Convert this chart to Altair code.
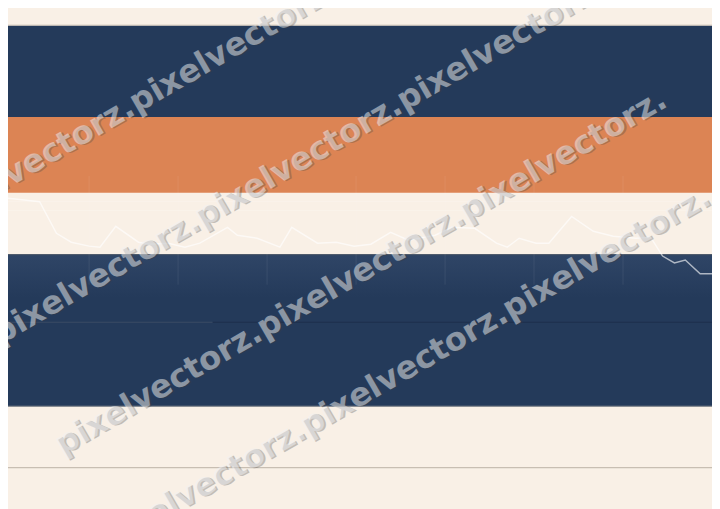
import altair as alt
import pandas as pd

# ---- data (units: horizontal / vertical level) ----
band_y0 = [22.5, 115.5, 254.5]
band_y1 = [115.5, 192.0, 408.0]
band_color = ["#243a5a", "#dc8454", "#243a5a"]

rule_y = [22.5, 254.5, 323.0, 323.0, 408.0, 470.0]
rule_x0 = [0, 0, 0, 215, 0, 0]
rule_x1 = [720, 720, 215, 720, 720, 720]
rule_color = ["#dcd1c5", "#4f5b6c", "#3a4b64", "#1c2f4c", "#8a8e94", "#c8beb2"]

grid_x = [90, 180, 270, 360, 450, 540, 630]
grid_top = 175
grid_bottom = 285
hgrid_y = [201, 210]

line_x = [0, 13, 40, 57, 72, 90, 101, 117, 140, 151, 170, 187, 202, 230, 240,
          260, 283, 295, 321, 340, 358, 375, 395, 413, 440, 457, 480, 502, 513,
          525, 542, 555, 578, 600, 620, 643, 658, 670, 682, 693, 708, 720]
line_y = [197, 198, 201, 233, 242, 246, 247, 226, 242, 244, 243, 247, 243, 227, 235,
          238, 247, 227, 243, 242, 246, 244, 232, 240, 235, 227, 228, 243, 247,
          238, 243, 243, 216, 231, 236, 238, 237, 256, 263, 260, 274, 274]

wm_x = [-66, 0, 63, 107]
wm_y = [230, 346, 458, 557]
wm_text = ["pixelvectorz.pixelvectorz.pixelvectorz."] * 4

# ---- scales ----
xs = alt.Scale(domain=[8, 720], nice=False, zero=False)
ys = alt.Scale(domain=[8, 509], nice=False, zero=False, reverse=True)

bands = pd.DataFrame({"x0": 0, "x1": 720, "y0": band_y0, "y1": band_y1, "c": band_color})
rules = pd.DataFrame({"x0": rule_x0, "x1": rule_x1, "y": rule_y, "c": rule_color})
grid = pd.DataFrame({"x": grid_x, "y0": grid_top, "y1": grid_bottom})
hgrid = pd.DataFrame({"y": hgrid_y, "x0": 0, "x1": 720})
line = pd.DataFrame({"x": line_x, "y": line_y})
wm = pd.DataFrame({"x": wm_x, "y": wm_y, "t": wm_text})
glow = pd.DataFrame({"x0": [0], "x1": [720], "y0": [255.5], "y1": [298]})

band_layer = alt.Chart(bands).mark_rect().encode(
    x=alt.X("x0:Q", scale=xs, axis=None), x2="x1",
    y=alt.Y("y0:Q", scale=ys, axis=None), y2="y1",
    color=alt.Color("c:N", scale=None),
)

glow_layer = alt.Chart(glow).mark_rect(
    color=alt.Gradient(
        gradient="linear",
        stops=[alt.GradientStop(color="#2f4566", offset=0),
               alt.GradientStop(color="#243a5a", offset=1)],
        x1=0, x2=0, y1=0, y2=1,
    )
).encode(
    x=alt.X("x0:Q", scale=xs, axis=None), x2="x1",
    y=alt.Y("y0:Q", scale=ys, axis=None), y2="y1",
)

rule_layer = alt.Chart(rules).mark_rule(strokeWidth=1.2).encode(
    x=alt.X("x0:Q", scale=xs, axis=None), x2="x1",
    y=alt.Y("y:Q", scale=ys, axis=None),
    color=alt.Color("c:N", scale=None),
)

grid_layer = alt.Chart(grid).mark_rule(color="#ffffff", opacity=0.08, strokeWidth=1).encode(
    x=alt.X("x:Q", scale=xs, axis=None),
    y=alt.Y("y0:Q", scale=ys, axis=None), y2="y1",
)

hgrid_layer = alt.Chart(hgrid).mark_rule(color="#ffffff", opacity=0.2, strokeWidth=1).encode(
    x=alt.X("x0:Q", scale=xs, axis=None), x2="x1",
    y=alt.Y("y:Q", scale=ys, axis=None),
)

line_layer = alt.Chart(line).mark_line(color="#ffffff", opacity=0.62, strokeWidth=1.5).encode(
    x=alt.X("x:Q", scale=xs, axis=None),
    y=alt.Y("y:Q", scale=ys, axis=None),
)

wm_shadow = alt.Chart(wm).mark_text(
    angle=330, align="left", baseline="alphabetic", font="DejaVu Sans",
    fontWeight="bold", fontSize=32.5, color="#3a3a3a", opacity=0.28, dx=1.5, dy=1.5,
).encode(
    x=alt.X("x:Q", scale=xs, axis=None),
    y=alt.Y("y:Q", scale=ys, axis=None),
    text="t:N",
)

wm_main = alt.Chart(wm).mark_text(
    angle=330, align="left", baseline="alphabetic", font="DejaVu Sans",
    fontWeight="bold", fontSize=32.5, color="#eef1f5", opacity=0.5,
).encode(
    x=alt.X("x:Q", scale=xs, axis=None),
    y=alt.Y("y:Q", scale=ys, axis=None),
    text="t:N",
)

chart = alt.layer(
    band_layer, glow_layer, rule_layer, grid_layer, hgrid_layer, line_layer,
    wm_shadow, wm_main,
).properties(
    width=712, height=501, padding=0,
    autosize=alt.AutoSizeParams(type="none"),
    background="#f9f0e6",
).configure_view(strokeOpacity=0)

chart.save("out.html", embed_options={"renderer": "svg", "actions": False})
